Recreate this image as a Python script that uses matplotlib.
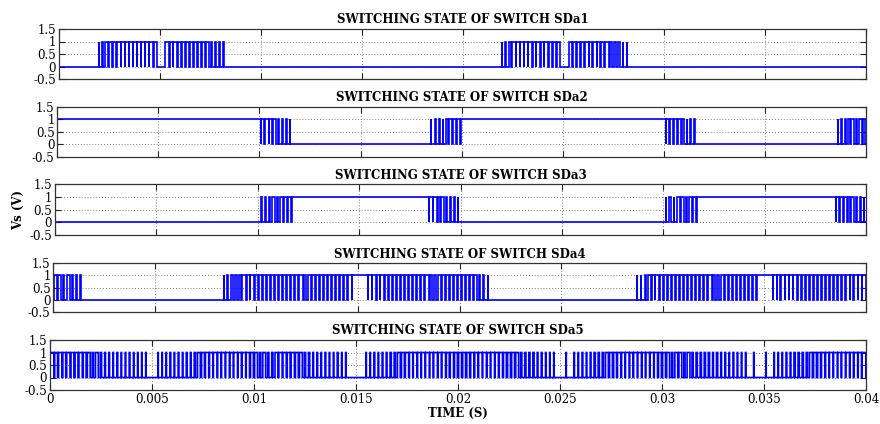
import matplotlib
matplotlib.use("Agg")
import matplotlib.pyplot as plt

# ---------------- data (times in ms) ----------------
switch_names = ["SDa1", "SDa2", "SDa3", "SDa4", "SDa5"]
x_ticks_s = [0, 0.005, 0.01, 0.015, 0.02, 0.025, 0.03, 0.035, 0.04]
x_tick_labels = ["0", "0.005", "0.01", "0.015", "0.02", "0.025", "0.03", "0.035", "0.04"]
y_ticks = [-0.5, 0, 0.5, 1, 1.5]
y_tick_labels = ["-0.5", "0", "0.5", "1", "1.5"]

# constant-level segments: (start_ms, end_ms, level)
sda1_const = [(0, 1.87, 0), (8.26, 21.85, 0), (28.26, 40, 0)]
# switching windows: (start_ms, end_ms, duty of each carrier period in tenths)
sda1_pwm = [
    (1.87, 8.26, [1, 2, 7, 8, 8, 9, 8, 9, 9, 8, 9, 9, 8, 9, 8, 0, 0,
                  9, 8, 9, 9, 8, 9, 8, 9, 8, 7, 7, 3, 3, 2, 1]),
    (21.85, 28.26, [1, 3, 7, 8, 9, 8, 9, 9, 8, 9, 8, 9, 9, 8, 9, 0, 0,
                    8, 9, 9, 8, 9, 8, 9, 8, 7, 8, 7, 3, 3, 2, 1]),
]

sda2_const = [(0, 10.07, 1), (11.62, 18.4, 0), (19.95, 30.09, 1), (31.62, 38.51, 0)]
sda2_pwm = [
    (10.07, 11.62, [8, 9, 7, 8, 3, 2, 2, 1]),
    (18.4, 19.95, [1, 2, 3, 2, 7, 8, 8, 9]),
    (30.09, 31.62, [9, 8, 7, 8, 3, 2, 2, 1]),
    (38.51, 40.0, [1, 3, 2, 7, 8, 3, 8, 7]),
]

sda3_const = [(0, 10.07, 0), (11.67, 18.46, 1), (19.97, 30.03, 0), (31.64, 38.51, 1)]
sda3_pwm = [
    (10.07, 11.67, [2, 3, 2, 7, 3, 8, 7, 9]),
    (18.46, 19.97, [9, 8, 7, 8, 3, 2, 2, 1]),
    (30.03, 31.64, [1, 3, 2, 7, 8, 3, 8, 9]),
    (38.51, 40.0, [9, 7, 8, 3, 7, 3, 3, 2]),
]

sda4_const = [(1.45, 8.29, 0), (21.49, 28.63, 0)]
sda4_pwm = [
    (0.0, 1.45, [8, 7, 3, 7, 3, 2, 2]),
    (8.29, 21.49, [1, 2, 3, 7, 7, 8, 8, 9, 8, 9, 8, 7, 7, 8, 7, 7, 8, 7, 7, 8,
                   7, 7, 8, 8, 8, 9, 8, 9, 9, 8, 9, 9, 10, 10, 10, 10,
                   9, 9, 8, 9, 8, 9, 8, 9, 8, 7, 7, 8, 7, 7, 8, 7, 7, 8, 7, 7,
                   8, 9, 8, 9, 8, 7, 7, 3, 2, 1]),
    (28.63, 40.0, [1, 2, 3, 7, 8, 9, 8, 9, 9, 8, 7, 7, 8, 7, 7, 8, 7, 7, 8, 7,
                   7, 8, 7, 7, 8, 8, 9, 8, 9, 9, 10, 10, 10, 10,
                   9, 8, 9, 8, 9, 8, 7, 7, 8, 7, 7, 8, 7, 7, 8, 7, 7, 8, 9, 8,
                   9, 8, 9]),
]

sda5_const = []
sda5_pwm = [
    (0.0, 10.0, [9, 7, 8, 7, 8, 7, 7, 8, 7, 7, 3, 7, 3, 2, 2, 1, 2, 1, 1, 2,
                 1, 1, 1, 1, 0, 0, 1, 1, 1, 2, 1, 2, 1, 2, 2, 3, 7, 7, 8, 8,
                 9, 8, 9, 9, 8, 9, 8, 9, 8, 7]),
    (10.0, 20.0, [7, 3, 7, 3, 3, 7, 8, 8, 7, 8, 7, 7, 3, 3, 2, 2, 1, 2, 1, 1,
                  2, 1, 1, 0, 0, 0, 0, 1, 1, 2, 1, 2, 2, 3, 3, 7, 7, 8, 8, 9,
                  8, 9, 9, 8, 9, 8, 9, 7, 8, 7]),
    (20.0, 30.0, [7, 7, 7, 8, 8, 9, 9, 8, 9, 8, 8, 7, 7, 7, 7, 3, 3, 3, 3, 2,
                  2, 1, 1, 1, 0, 0, 1, 0, 1, 1, 2, 1, 2, 3, 3, 3, 7, 7, 7, 8,
                  8, 9, 8, 9, 9, 8, 9, 9, 8, 7]),
    (30.0, 40.0, [7, 7, 3, 7, 7, 3, 7, 3, 3, 3, 3, 3, 2, 3, 2, 2, 1, 2, 1, 1,
                  1, 0, 1, 0, 0, 1, 0, 1, 1, 1, 2, 2, 3, 3, 3, 3, 7, 7, 7, 8,
                  8, 9, 9, 8, 9, 9, 8, 9, 8, 9]),
]

const_sets = [sda1_const, sda2_const, sda3_const, sda4_const, sda5_const]
pwm_sets = [sda1_pwm, sda2_pwm, sda3_pwm, sda4_pwm, sda5_pwm]


def build_signal(consts, windows):
    pieces = [(a, b, "c", lvl) for a, b, lvl in consts] + \
             [(a, b, "p", d) for a, b, d in windows]
    pieces.sort(key=lambda p: p[0])
    xs, ys = [], []
    for a, b, kind, val in pieces:
        if kind == "c":
            xs += [a, b]
            ys += [val, val]
            continue
        n = len(val)
        T = (b - a) / n
        for k, d in enumerate(val):
            p0 = a + k * T
            p1 = p0 + T
            if d <= 0:
                xs += [p0, p1]; ys += [0, 0]
            elif d >= 10:
                xs += [p0, p1]; ys += [1, 1]
            else:
                c = p0 + T / 2
                w = d / 10 * T
                xs += [p0, c - w / 2, c - w / 2, c + w / 2, c + w / 2, p1]
                ys += [0, 0, 1, 1, 0, 0]
    return [x / 1000.0 for x in xs], ys


# ---------------- figure ----------------
W, H = 880, 424
fig = plt.figure(figsize=(W / 100, H / 100), dpi=100)
fig.patch.set_facecolor("white")

# (left, top, bottom) in pixels for each panel
panel_px = [(59, 29, 79), (57.3, 107, 156.7), (55, 184.3, 235),
            (53.3, 263.3, 312), (50, 340, 390)]
right_px = 866

serif = "DejaVu Serif"

for i, (name, consts, pwms) in enumerate(zip(switch_names, const_sets, pwm_sets)):
    l, t, b = panel_px[i]
    ax = fig.add_axes([l / W, 1 - b / H, (right_px - l) / W, (b - t) / H])
    xs, ys = build_signal(consts, pwms)
    ax.plot(xs, ys, color="#0000ff", lw=1.2, solid_joinstyle="miter")
    ax.set_xlim(0, 0.04)
    ax.set_ylim(-0.5, 1.5)
    ax.set_xticks(x_ticks_s)
    ax.set_yticks(y_ticks)
    ax.set_yticklabels(y_tick_labels, family=serif, fontsize=8.5)
    if i == 4:
        ax.set_xticklabels(x_tick_labels, family=serif, fontsize=8.5)
        ax.set_xlabel("TIME (S)", family=serif, fontweight="bold", fontsize=8.5, labelpad=1)
    else:
        ax.set_xticklabels([])
    ax.tick_params(direction="in", length=4, width=0.8, top=True, right=True,
                   pad=2, colors="#222222", labelcolor="black")
    ax.grid(True, linestyle=(0, (1, 2.5)), color="#555555", lw=0.6)
    for s in ax.spines.values():
        s.set_color("#333333")
        s.set_linewidth(0.9)
    ax.set_title("SWITCHING STATE OF SWITCH " + name, family=serif,
                 fontweight="bold", fontsize=8.5, pad=4)
    if i == 2:
        ax.set_ylabel("Vs (V)", family=serif, fontweight="bold", fontsize=8.5, labelpad=3)

fig.savefig("out.png", dpi=100, facecolor="white")
